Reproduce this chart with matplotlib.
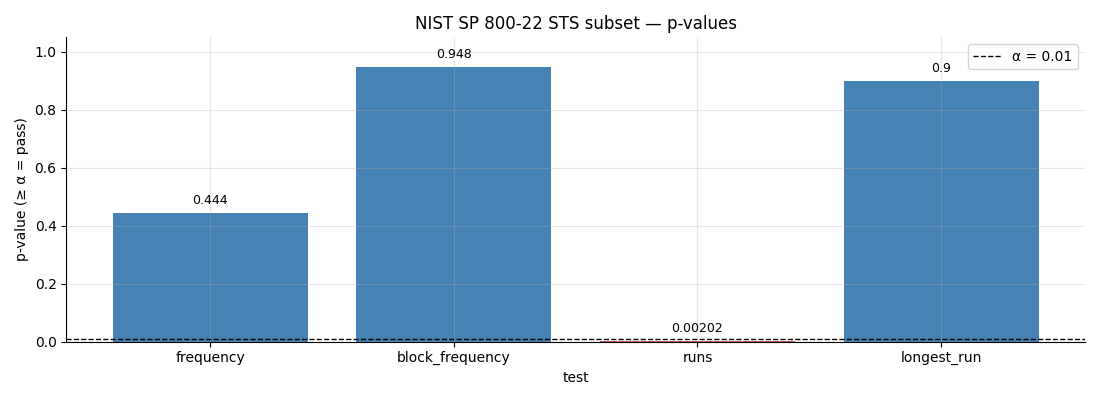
import matplotlib
matplotlib.use("Agg")
import matplotlib.pyplot as plt

# %% Data.
tests = ["frequency", "block_frequency", "runs", "longest_run"]
p_values = [0.444, 0.948, 0.00202, 0.9]
labels = ["0.444", "0.948", "0.00202", "0.9"]
alpha = 0.01

# %% Plot.
fig, ax = plt.subplots(figsize=(11, 4), dpi=100)
colors = ["steelblue" if p >= alpha else "indianred" for p in p_values]
bars = ax.bar(tests, p_values, color=colors, width=0.8)
for i, (p, lab) in enumerate(zip(p_values, labels)):
    ax.text(i, p + 0.02, lab, ha="center", va="bottom", fontsize=9)
ax.axhline(alpha, color="black", linestyle="--", linewidth=1, label=f"α = {alpha}")

ax.set_ylim(0, 1.05)
ax.grid(True, alpha=0.3)
ax.spines["top"].set_visible(False)
ax.spines["right"].set_visible(False)
ax.set_xlabel("test")
ax.set_ylabel("p-value (≥ α = pass)")
ax.set_title("NIST SP 800-22 STS subset — p-values")
ax.legend(loc="upper right")
plt.tight_layout()
plt.savefig("out.png")
